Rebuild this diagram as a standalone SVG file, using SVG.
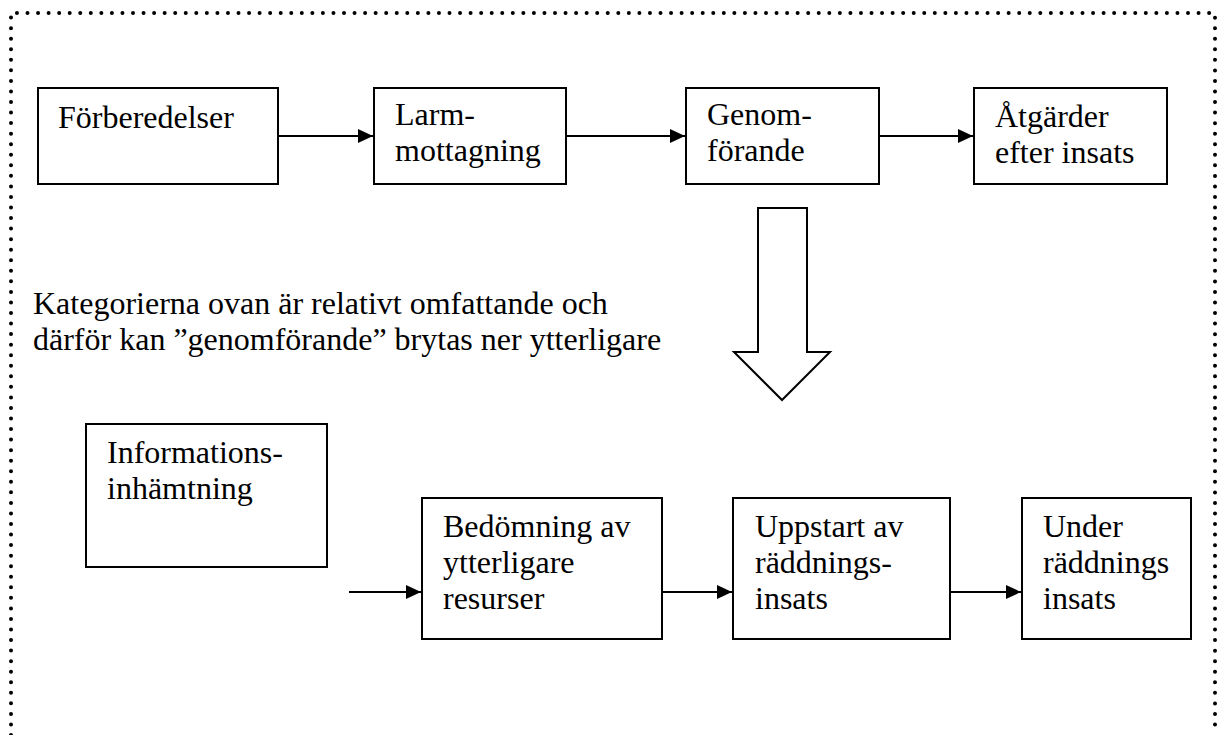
<svg xmlns="http://www.w3.org/2000/svg" width="1219" height="735" viewBox="0 0 1219 735">
<style>
  .box{fill:#fff;stroke:#000;stroke-width:2}
  .t{font-family:"Liberation Serif","Times New Roman",serif;font-size:32px;fill:#000}
  .conn{fill:none;stroke:#000;stroke-width:2}
  .dots{fill:none;stroke:#000;stroke-width:4;stroke-linecap:round;stroke-dasharray:0 10.55}
</style>
<defs>
  <marker id="ah" markerUnits="userSpaceOnUse" markerWidth="16" markerHeight="14" refX="15" refY="7" orient="auto">
    <path d="M0,0 L15,7 L0,14 Z" fill="#000"/>
  </marker>
</defs>
<rect width="1219" height="735" fill="#fff"/>
<g id="frame">
  <path class="dots" d="M11,735 L11,13 L1215,13 L1215,735"/>
</g>
<g id="connectors">
  <path class="conn" d="M278,136 L373,136" marker-end="url(#ah)"/>
  <path class="conn" d="M566,136 L685,136" marker-end="url(#ah)"/>
  <path class="conn" d="M879,136 L973,136" marker-end="url(#ah)"/>
  <path class="conn" d="M349,592 L421,592" marker-end="url(#ah)"/>
  <path class="conn" d="M662,592 L732,592" marker-end="url(#ah)"/>
  <path class="conn" d="M950,592 L1021,592" marker-end="url(#ah)"/>
  <polygon id="big-arrow" points="758,208 807,208 807,352 830,352 782,400 734,352 758,352" fill="#fff" stroke="#000" stroke-width="2" stroke-linejoin="miter"/>
</g>
<g id="n-forberedelser">
  <rect class="box" x="38" y="88" width="240" height="96"/>
  <text class="t" x="58" y="128">Förberedelser</text>
</g>
<g id="n-larm">
  <rect class="box" x="374" y="88" width="192" height="96"/>
  <text class="t" x="395" y="125">Larm-</text>
  <text class="t" x="395" y="161">mottagning</text>
</g>
<g id="n-genomforande">
  <rect class="box" x="686" y="88" width="193" height="96"/>
  <text class="t" x="707" y="125">Genom-</text>
  <text class="t" x="707" y="161">förande</text>
</g>
<g id="n-atgarder">
  <rect class="box" x="974" y="88" width="193" height="96"/>
  <text class="t" x="995" y="127">Åtgärder</text>
  <text class="t" x="995" y="163">efter insats</text>
</g>
<g id="note">
  <text class="t" x="33" y="314">Kategorierna ovan är relativt omfattande och</text>
  <text class="t" x="33" y="350">därför kan ”genomförande” brytas ner ytterligare</text>
</g>
<g id="n-information">
  <rect class="box" x="86" y="424" width="241" height="143"/>
  <text class="t" x="107" y="463">Informations-</text>
  <text class="t" x="107" y="499">inhämtning</text>
</g>
<g id="n-bedomning">
  <rect class="box" x="422" y="498" width="240" height="141"/>
  <text class="t" x="443" y="537">Bedömning av</text>
  <text class="t" x="443" y="573">ytterligare</text>
  <text class="t" x="443" y="609">resurser</text>
</g>
<g id="n-uppstart">
  <rect class="box" x="733" y="498" width="217" height="141"/>
  <text class="t" x="755" y="537">Uppstart av</text>
  <text class="t" x="755" y="573">räddnings-</text>
  <text class="t" x="755" y="609">insats</text>
</g>
<g id="n-under">
  <rect class="box" x="1022" y="498" width="169" height="141"/>
  <text class="t" x="1043" y="537">Under</text>
  <text class="t" x="1043" y="573">räddnings</text>
  <text class="t" x="1043" y="609">insats</text>
</g>
</svg>
